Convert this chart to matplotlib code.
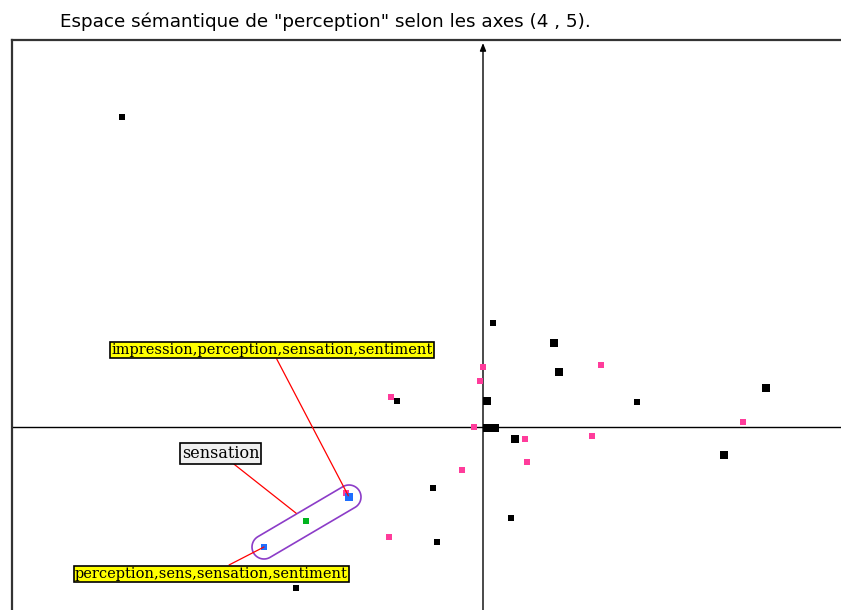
import numpy as np
import matplotlib
matplotlib.use("Agg")
import matplotlib.pyplot as plt
from matplotlib.patches import Polygon

# coordinates on factorial axes 4 (x) and 5 (y)
black_x = [-3.61, 0.10, 0.71, 0.76, -0.86, 0.04, 1.54, 2.83, 0.04, 0.12, 0.32, 2.41, -0.50, 0.28, -0.46, -1.87]
black_y = [3.10, 1.04, 0.84, 0.55, 0.26, 0.26, 0.25, 0.39, -0.01, -0.01, -0.12, -0.28, -0.61, -0.91, -1.15, -1.61]
black_big = [0, 0, 1, 1, 0, 1, 0, 1, 1, 1, 1, 1, 0, 0, 0, 0]

pink_x = [0.00, -0.03, -0.92, 1.18, 2.60, -0.09, 0.42, 1.09, 0.44, -0.21, -0.94, -1.37]
pink_y = [0.60, 0.46, 0.30, 0.62, 0.05, 0.00, -0.12, -0.09, -0.35, -0.43, -1.10, -0.66]

blue_x = [-1.34, -2.19]
blue_y = [-0.70, -1.20]
blue_big = [1, 0]

green_x = [-1.77]
green_y = [-0.94]

labels = ["impression,perception,sensation,sentiment", "sensation", "perception,sens,sensation,sentiment"]
label_xy = [(-2.11, 0.77), (-2.625, -0.265), (-2.715, -1.47)]
label_target = [(blue_x[0], blue_y[0]), (green_x[0], green_y[0]), (blue_x[1], blue_y[1])]
label_bg = ["#ffff00", "#f0f0f0", "#ffff00"]
label_size = [10.5, 11.5, 10.5]

title = 'Espace sémantique de "perception" selon les axes (4 , 5).'

fig = plt.figure(figsize=(8.41, 6.10), dpi=100)
ax = fig.add_axes([12 / 841, 0, 1 - 12 / 841, 570 / 610])
ax.set_xlim(-4.71, 3.58)
ax.set_ylim(-1.83, 3.87)
ax.set_xticks([])
ax.set_yticks([])
for s in ["right", "bottom"]:
    ax.spines[s].set_visible(False)
for s in ["left", "top"]:
    ax.spines[s].set_color("#333333")
    ax.spines[s].set_linewidth(1.6)

# axes through origin
ax.axhline(0, color="black", lw=1.0, zorder=1)
ax.annotate("", xy=(0, 3.84), xytext=(0, -1.83),
            arrowprops=dict(arrowstyle="-|>,head_length=0.45,head_width=0.18", color="black", lw=1.0,
                            shrinkA=0, shrinkB=0), zorder=1)

bx = np.array(black_x)
by = np.array(black_y)
big = np.array(black_big) == 1
ax.scatter(bx[~big], by[~big], s=16, marker="s", color="black", linewidths=0, zorder=3)
ax.scatter(bx[big], by[big], s=30, marker="s", color="black", linewidths=0, zorder=3)
ax.scatter(pink_x, pink_y, s=19, marker="s", color="#ff3c9b", linewidths=0, zorder=3)
ax.scatter(blue_x, blue_y, s=[40 if b else 20 for b in blue_big], marker="s", color="#1e6eff",
           linewidths=0, zorder=4)
ax.scatter(green_x, green_y, s=22, marker="s", color="#00b41e", linewidths=0, zorder=4)

# stadium around the blue points
a = np.array([blue_x[1], blue_y[1]])
b = np.array([blue_x[0], blue_y[0]])
r = 0.12
ang = np.arctan2(b[1] - a[1], b[0] - a[0])
t1 = np.linspace(ang - np.pi / 2, ang + np.pi / 2, 30)
t2 = np.linspace(ang + np.pi / 2, ang + 3 * np.pi / 2, 30)
pts = np.vstack([np.c_[b[0] + r * np.cos(t1), b[1] + r * np.sin(t1)],
                 np.c_[a[0] + r * np.cos(t2), a[1] + r * np.sin(t2)]])
ax.add_patch(Polygon(pts, closed=True, fill=False, edgecolor="#8c3cc8", lw=1.2, zorder=5))

shrinks = [1, 9, 0]
for txt, pos, tgt, bg, sh, fs in zip(labels, label_xy, label_target, label_bg, shrinks, label_size):
    ax.annotate(txt, xy=tgt, xytext=pos, ha="center", va="center",
                fontsize=fs, family="DejaVu Serif",
                bbox=dict(boxstyle="square,pad=0.1", fc=bg, ec="black", lw=1.2),
                arrowprops=dict(arrowstyle="-", color="red", lw=0.9, shrinkA=0, shrinkB=sh),
                zorder=6)

fig.text(60 / 841, 1 - 22 / 610, title, ha="left", va="center", fontsize=13.2,
         family="DejaVu Sans")

fig.savefig("out.png", dpi=100)
